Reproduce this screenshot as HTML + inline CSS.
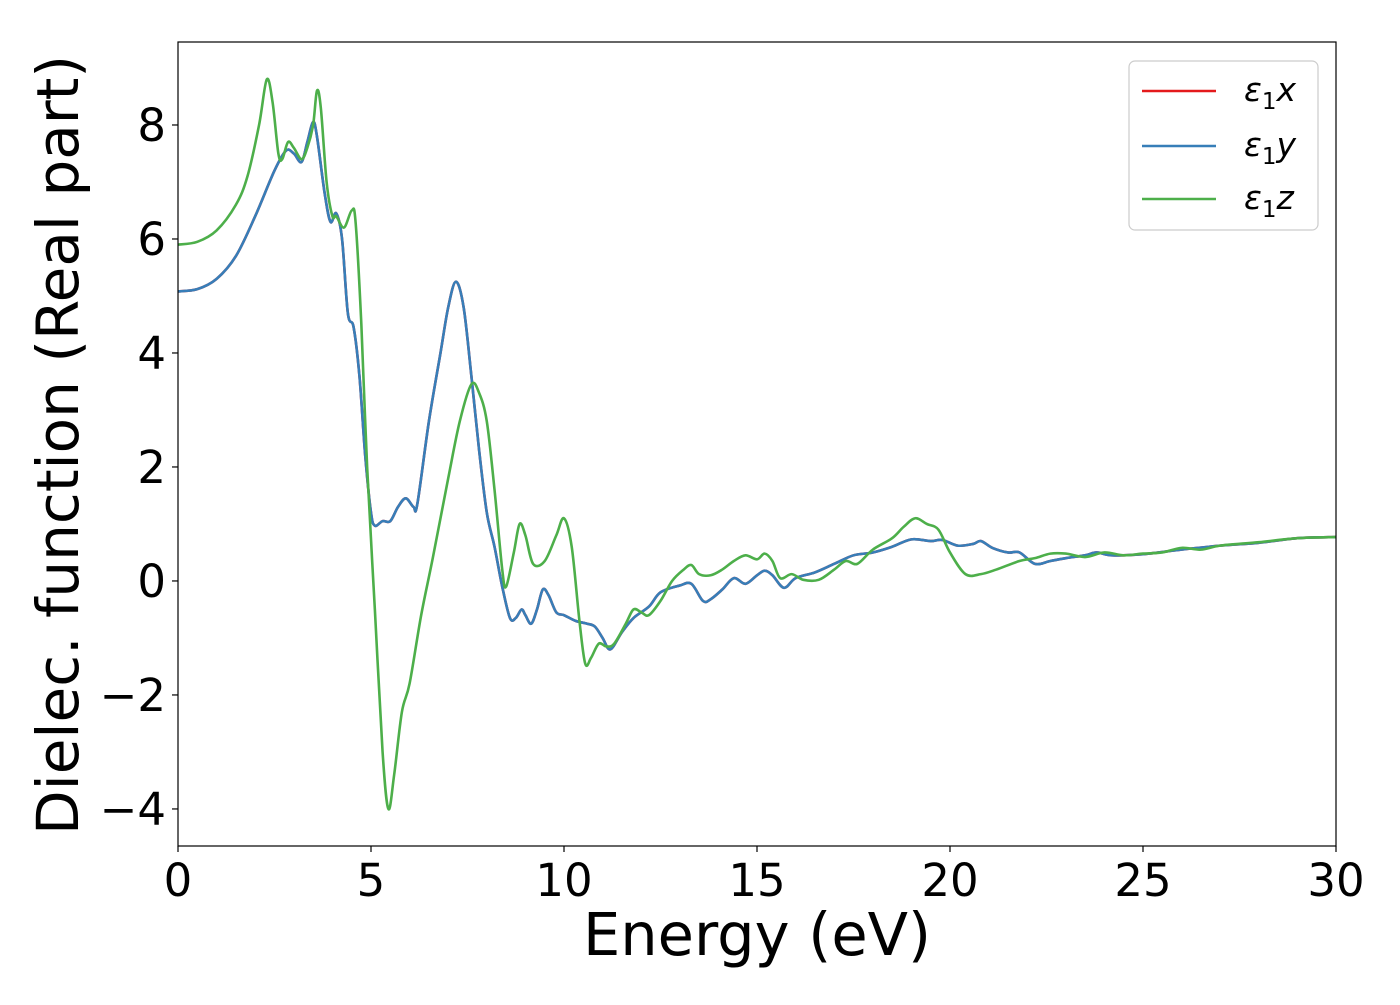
<!DOCTYPE html>
<html><head><meta charset="utf-8"><style>
body{margin:0;background:#fff;}
text{font-family:"DejaVu Sans","Liberation Sans",sans-serif;}
</style></head><body>
<svg id="chart" width="1400" height="1000" xmlns="http://www.w3.org/2000/svg"></svg>
<script>
const xTicks=[0,5,10,15,20,25,30];
const yTicks=[-4,-2,0,2,4,6,8];
const blueE=[0,0.5,1,1.5,2,2.5,2.8,3.0,3.2,3.35,3.5,3.6,3.8,3.95,4.1,4.25,4.4,4.55,4.7,4.85,5.0,5.1,5.3,5.5,5.7,5.9,6.1,6.2,6.5,6.8,7.0,7.2,7.4,7.6,7.8,8.0,8.2,8.4,8.6,8.75,8.9,9.0,9.15,9.3,9.45,9.6,9.8,10,10.3,10.6,10.8,11.0,11.2,11.5,11.8,12.2,12.5,13,13.3,13.6,13.8,14.1,14.4,14.7,15.0,15.2,15.4,15.7,16,16.5,17,17.5,18,18.5,19,19.5,19.8,20.2,20.6,20.8,21.1,21.5,21.8,22.2,22.6,23,23.5,23.8,24.2,25,26,27,28,29,30];
const blueV=[5.08,5.12,5.3,5.7,6.4,7.2,7.55,7.5,7.35,7.7,8.05,7.8,6.8,6.3,6.45,6.0,4.7,4.45,3.6,2.2,1.2,0.97,1.05,1.05,1.3,1.45,1.3,1.35,2.8,4.0,4.8,5.25,4.8,3.6,2.3,1.2,0.6,-0.1,-0.65,-0.65,-0.5,-0.6,-0.75,-0.5,-0.15,-0.25,-0.55,-0.6,-0.7,-0.75,-0.8,-1.0,-1.2,-0.9,-0.65,-0.45,-0.2,-0.08,-0.05,-0.35,-0.32,-0.15,0.05,-0.05,0.1,0.18,0.1,-0.12,0.05,0.15,0.3,0.45,0.5,0.6,0.73,0.7,0.72,0.62,0.65,0.7,0.58,0.5,0.5,0.3,0.35,0.4,0.45,0.5,0.45,0.47,0.55,0.62,0.67,0.75,0.77];
const redE=blueE.slice();
const redV=blueV.slice();
const greenE=[0,0.5,1,1.5,1.8,2.1,2.3,2.45,2.6,2.7,2.85,3.0,3.2,3.35,3.5,3.6,3.7,3.85,4.0,4.1,4.3,4.5,4.6,4.75,4.9,5.1,5.3,5.45,5.6,5.8,6.0,6.3,6.6,7.0,7.3,7.6,7.8,8.0,8.2,8.4,8.5,8.7,8.85,9.0,9.2,9.5,9.8,10.0,10.2,10.4,10.55,10.7,10.9,11.1,11.3,11.6,11.8,12.0,12.2,12.5,12.8,13.1,13.3,13.5,13.8,14.1,14.4,14.7,15.0,15.2,15.4,15.6,15.9,16.2,16.6,17,17.3,17.6,18,18.5,18.8,19.1,19.4,19.7,20.0,20.4,20.8,21.2,21.8,22.2,22.6,23,23.5,24,24.5,25,25.5,26,26.5,27,28,29,30];
const greenV=[5.9,5.95,6.15,6.6,7.1,8.0,8.8,8.4,7.5,7.4,7.7,7.6,7.4,7.6,8.0,8.6,8.3,7.0,6.4,6.4,6.2,6.5,6.3,4.5,2.0,-0.5,-3.0,-4.0,-3.4,-2.3,-1.8,-0.6,0.4,1.8,2.8,3.45,3.3,2.8,1.6,0.2,-0.1,0.5,1.0,0.8,0.3,0.35,0.8,1.1,0.6,-0.7,-1.45,-1.35,-1.1,-1.15,-1.1,-0.75,-0.5,-0.55,-0.6,-0.35,0,0.2,0.28,0.12,0.1,0.2,0.35,0.45,0.38,0.48,0.35,0.05,0.12,0.02,0.02,0.2,0.35,0.3,0.55,0.75,0.95,1.1,1.0,0.9,0.5,0.12,0.12,0.2,0.35,0.4,0.48,0.48,0.42,0.5,0.45,0.48,0.5,0.58,0.55,0.62,0.68,0.75,0.77];

const L=178,R=1336,T=42,B=846;
const xMin=0,xMax=30,yMin=-4.65,yMax=9.456;
const sx=v=>L+(v-xMin)/(xMax-xMin)*(R-L);
const sy=v=>B-(v-yMin)/(yMax-yMin)*(B-T);
const NS="http://www.w3.org/2000/svg";
const svg=document.getElementById('chart');
function mk(tag,attrs,parent){const e=document.createElementNS(NS,tag);for(const k in attrs)e.setAttribute(k,attrs[k]);(parent||svg).appendChild(e);return e;}

const clip=mk('clipPath',{id:'pc'});mk('rect',{x:L,y:T,width:R-L,height:B-T},clip);

function smoothPath(P){
  let d='M'+P[0][0]+','+P[0][1];
  for(let i=0;i<P.length-1;i++){
    const p0=P[Math.max(0,i-1)],p1=P[i],p2=P[i+1],p3=P[Math.min(P.length-1,i+2)];
    const c1x=p1[0]+(p2[0]-p0[0])/6,c1y=p1[1]+(p2[1]-p0[1])/6;
    const c2x=p2[0]-(p3[0]-p1[0])/6,c2y=p2[1]-(p3[1]-p1[1])/6;
    d+=' C'+c1x+','+c1y+' '+c2x+','+c2y+' '+p2[0]+','+p2[1];
  }
  return d;
}
function series(E,V,color,name){
  const pts=E.map((e,i)=>[sx(e),sy(V[i])]);
  const p=mk('path',{d:smoothPath(pts),fill:'none',stroke:color,'stroke-width':2.6,'stroke-linejoin':'round','clip-path':'url(#pc)'});
  
  
}
series(redE,redV,'#e41a1c','series-eps1x');
series(blueE,blueV,'#377eb8','series-eps1y');
series(greenE,greenV,'#4daf4a','series-eps1z');

const frame=mk('rect',{x:L,y:T,width:R-L,height:B-T,fill:'none',stroke:'#000','stroke-width':1.2});



xTicks.forEach(t=>{
  mk('line',{x1:sx(t),x2:sx(t),y1:B,y2:B+6,stroke:'#000','stroke-width':1.2});
  const tx=mk('text',{x:sx(t),y:B+50,'font-size':45,'text-anchor':'middle'});
  tx.textContent=t;
  
  
});
yTicks.forEach(t=>{
  mk('line',{x1:L-6,x2:L,y1:sy(t),y2:sy(t),stroke:'#000','stroke-width':1.2});
  const tx=mk('text',{x:L-12,y:sy(t)+16,'font-size':45,'text-anchor':'end'});
  tx.textContent=t<0?'\u2212'+Math.abs(t):t;
  
  
});
const xl=mk('text',{x:757,y:955,'font-size':59,'text-anchor':'middle'});
xl.textContent='Energy (eV)';


const yl=mk('text',{x:0,y:0,'font-size':58,'text-anchor':'middle',transform:'translate(78,445) rotate(-90)'});
yl.textContent='Dielec. function (Real part)';



const lg=mk('g',{});


mk('rect',{x:1129,y:61,width:189,height:169,rx:6,fill:'#fff',stroke:'#ccc','stroke-width':1.2},lg);
const entries=[['#e41a1c','x',91],['#377eb8','y',146],['#4daf4a','z',199]];
entries.forEach(en=>{
  const g=mk('g',{},lg);
  
  
  mk('line',{x1:1142,x2:1216,y1:en[2],y2:en[2],stroke:en[0],'stroke-width':2.6},g);
  const t=mk('text',{x:1244,y:en[2]+10,'font-size':33,'font-style':'italic'},g);
  t.innerHTML='ε<tspan font-style="normal" font-size="23" dy="8">1</tspan><tspan dy="-8">'+en[1]+'</tspan>';
});
</script>
</body></html>
